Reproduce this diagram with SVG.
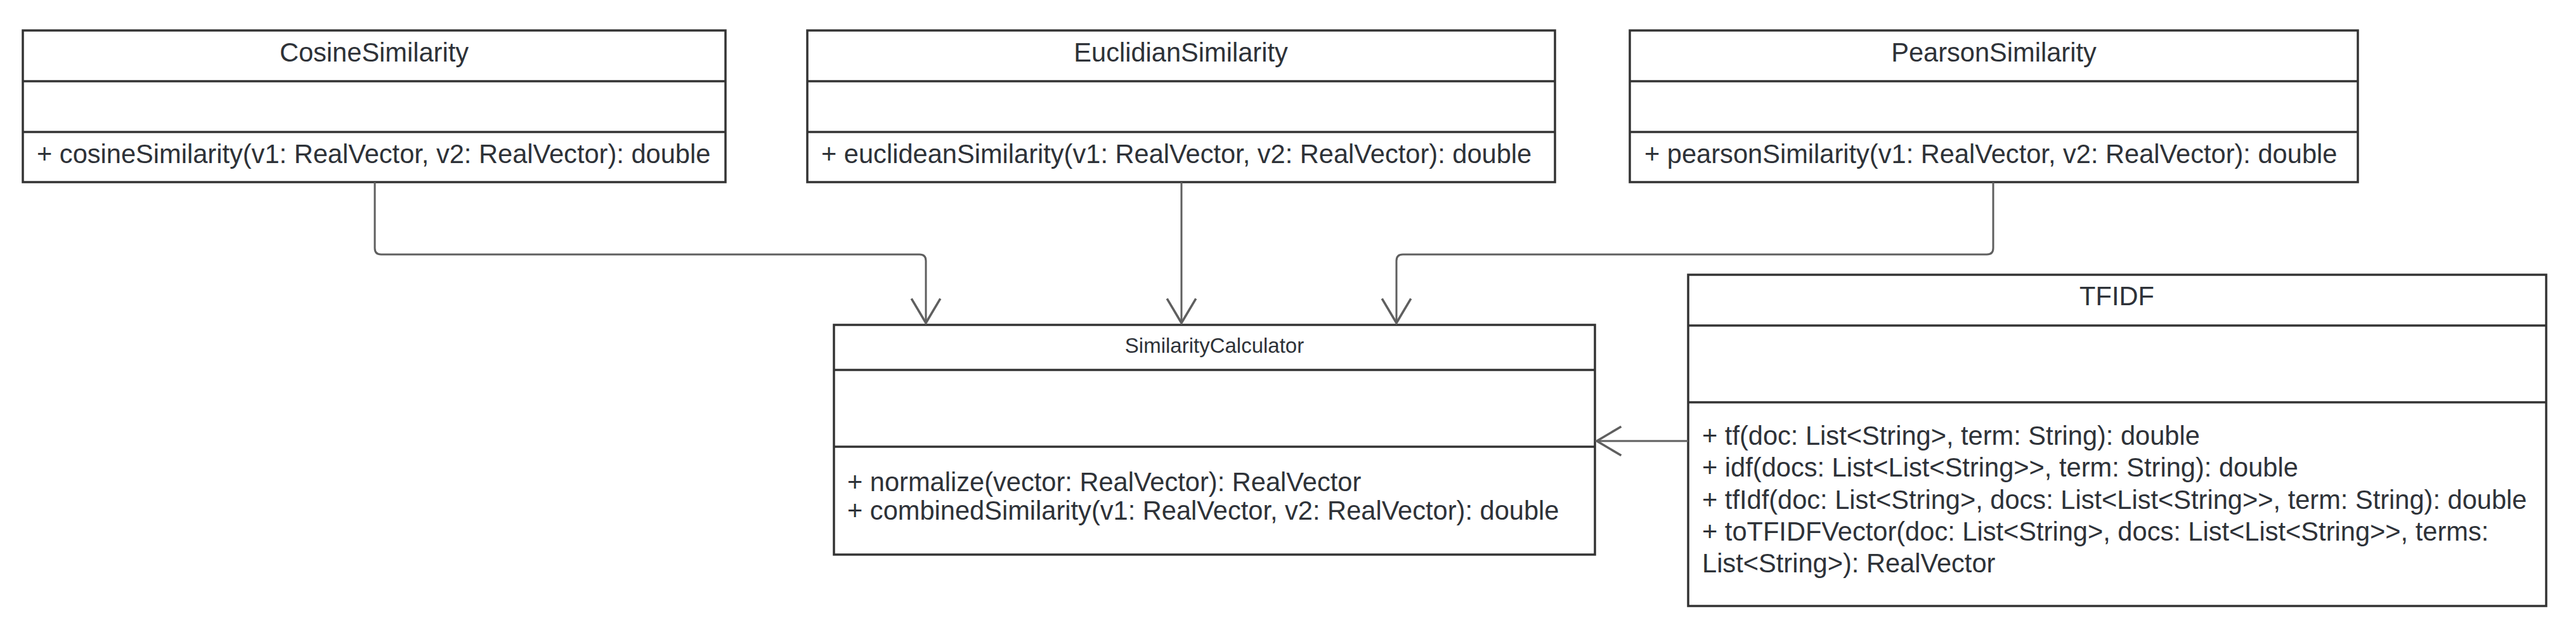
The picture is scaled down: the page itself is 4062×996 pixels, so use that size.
<svg xmlns="http://www.w3.org/2000/svg" width="4062" height="996" viewBox="0 0 4062 996">
  <defs>
    <style>
      .box { fill: #ffffff; stroke: #333333; stroke-width: 3.5; }
      .div { stroke: #333333; stroke-width: 3.5; fill: none; }
      .t { font-family: "Liberation Sans", Arial, sans-serif; font-size: 41.6px; fill: #2e3238; }
      .title { text-anchor: middle; }
      .small { font-size: 33px; }
      .conn { fill: none; stroke: #5f5f5f; stroke-width: 3; }
    </style>
    <marker id="open" markerUnits="userSpaceOnUse" markerWidth="60" markerHeight="60" viewBox="-40 -25 50 50" refX="0" refY="0" orient="auto">
      <path d="M -32 -19 L 0 0 L -32 19" fill="none" stroke="#5f5f5f" stroke-width="3"/>
    </marker>
  </defs>
  <rect x="0" y="0" width="4062" height="996" fill="#ffffff"/>

  <g id="CosineSimilarity">
    <rect class="box" x="36" y="48" width="1108" height="239"/>
    <line class="div" x1="36" y1="128" x2="1144" y2="128"/>
    <line class="div" x1="36" y1="208" x2="1144" y2="208"/>
    <text class="t title" x="590" y="97">CosineSimilarity</text>
    <text class="t" x="58" y="257">+ cosineSimilarity(v1: RealVector, v2: RealVector): double</text>
  </g>

  <g id="EuclidianSimilarity">
    <rect class="box" x="1273" y="48" width="1179" height="239"/>
    <line class="div" x1="1273" y1="128" x2="2452" y2="128"/>
    <line class="div" x1="1273" y1="208" x2="2452" y2="208"/>
    <text class="t title" x="1862" y="97">EuclidianSimilarity</text>
    <text class="t" x="1295" y="257">+ euclideanSimilarity(v1: RealVector, v2: RealVector): double</text>
  </g>

  <g id="PearsonSimilarity">
    <rect class="box" x="2570" y="48" width="1148" height="239"/>
    <line class="div" x1="2570" y1="128" x2="3718" y2="128"/>
    <line class="div" x1="2570" y1="208" x2="3718" y2="208"/>
    <text class="t title" x="3144" y="97">PearsonSimilarity</text>
    <text class="t" x="2593" y="257">+ pearsonSimilarity(v1: RealVector, v2: RealVector): double</text>
  </g>

  <g id="SimilarityCalculator">
    <rect class="box" x="1315" y="512" width="1200" height="362"/>
    <line class="div" x1="1315" y1="583" x2="2515" y2="583"/>
    <line class="div" x1="1315" y1="704" x2="2515" y2="704"/>
    <text class="t title small" x="1915" y="556">SimilarityCalculator</text>
    <text class="t" x="1336" y="774">+ normalize(vector: RealVector): RealVector</text>
    <text class="t" x="1336" y="819">+ combinedSimilarity(v1: RealVector, v2: RealVector): double</text>
  </g>

  <g id="TFIDF">
    <rect class="box" x="2662" y="433" width="1353" height="522"/>
    <line class="div" x1="2662" y1="513" x2="4015" y2="513"/>
    <line class="div" x1="2662" y1="634" x2="4015" y2="634"/>
    <text class="t title" x="3338" y="481">TFIDF</text>
    <text class="t" x="2684" y="701">+ tf(doc: List&lt;String&gt;, term: String): double</text>
    <text class="t" x="2684" y="751">+ idf(docs: List&lt;List&lt;String&gt;&gt;, term: String): double</text>
    <text class="t" x="2684" y="802">+ tfIdf(doc: List&lt;String&gt;, docs: List&lt;List&lt;String&gt;&gt;, term: String): double</text>
    <text class="t" x="2684" y="852">+ toTFIDFVector(doc: List&lt;String&gt;, docs: List&lt;List&lt;String&gt;&gt;, terms:</text>
    <text class="t" x="2684" y="902">List&lt;String&gt;): RealVector</text>
  </g>

  <g id="connectors">
    <path class="conn" d="M591 287 V391 Q591 401 601 401 H1450 Q1460 401 1460 411 V509" marker-end="url(#open)"/>
    <path class="conn" d="M1863 287 V509" marker-end="url(#open)"/>
    <path class="conn" d="M3143 287 V391 Q3143 401 3133 401 H2212 Q2202 401 2202 411 V509" marker-end="url(#open)"/>
    <path class="conn" d="M2662 695 H2518" marker-end="url(#open)"/>
  </g>
</svg>
